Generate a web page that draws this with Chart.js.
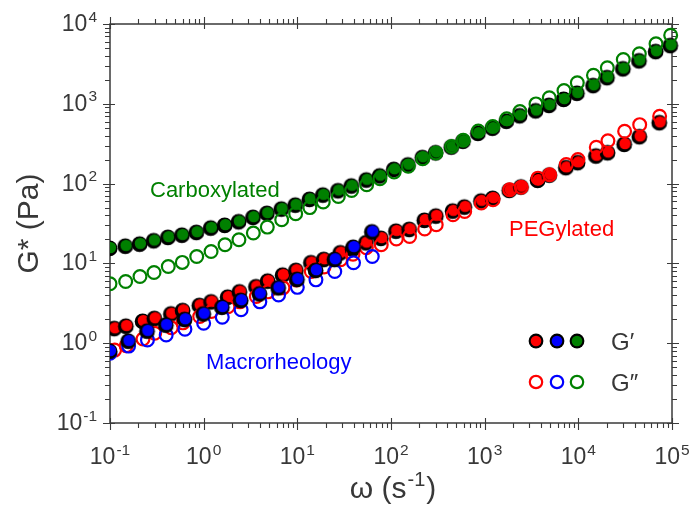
<!DOCTYPE html>
<html><head><meta charset="utf-8">
<script src="https://cdn.jsdelivr.net/npm/chart.js@4.4.1/dist/chart.umd.min.js"></script>
<style>html,body{margin:0;padding:0;background:#fff}#wrap{width:691px;height:510px;position:relative}</style>
</head><body><div id="wrap"><canvas id="c"></canvas></div>
<script>
// ---- data ----
const omegaCarbox = [0.1, 0.147, 0.209, 0.295, 0.419, 0.591, 0.843, 1.20, 1.69, 2.38, 3.39, 4.78, 6.81, 9.60, 13.6, 18.9, 27.4, 38.0, 55.0, 76.2, 108, 153, 218, 302, 444, 591, 855, 1220, 1720, 2380, 3530, 4900, 7030, 9750, 14500, 20400, 30200, 44800, 67500, 96800];
const carboxGp  = [15.6, 16.6, 17.6, 19.4, 21.4, 22.8, 24.7, 28.0, 30.3, 33.6, 38.1, 42.8, 48.4, 54.3, 64.1, 72.6, 82.2, 94.2, 112, 126, 152, 173, 214, 246, 290, 343, 431, 500, 610, 715, 825, 965, 1150, 1370, 1710, 2150, 2770, 3490, 4560, 5420];
const carboxGpp = [5.55, 5.93, 6.85, 7.69, 9.15, 10.3, 12.2, 14.1, 17.1, 19.8, 24.0, 28.5, 35.2, 41.9, 50, 59, 69, 82, 97, 115, 140, 165, 205, 242, 292, 350, 455, 520, 650, 800, 997, 1190, 1470, 1830, 2280, 2820, 3590, 4230, 5650, 7230];
const omegaPeg = [0.112, 0.149, 0.225, 0.300, 0.451, 0.601, 0.907, 1.21, 1.82, 2.43, 3.65, 4.86, 7.03, 9.75, 14.1, 19.3, 29.0, 39.3, 54.5, 78.7, 114, 158, 229, 304, 459, 612, 921, 1228, 1849, 2460, 3710, 4940, 7430, 9910, 15550, 20700, 31200, 45200, 73800];
const pegGp  = [1.54, 1.65, 1.90, 2.06, 2.35, 2.59, 3.00, 3.33, 3.81, 4.44, 5.15, 6.06, 7.20, 8.24, 10.3, 11.3, 13.7, 15.2, 18.3, 20.8, 25.6, 26.9, 35.0, 39.6, 45.7, 51.3, 61.0, 65.9, 83.1, 91.5, 111, 129, 160, 185, 224, 246, 314, 391, 586];
const pegGpp = [0.82, 0.93, 1.13, 1.33, 1.56, 1.80, 2.16, 2.50, 2.86, 3.30, 3.85, 4.40, 4.94, 6.2, 7.9, 9.0, 11.1, 13.0, 15.7, 17.1, 20.2, 21.7, 27.0, 30.5, 40.7, 44.8, 57.1, 62.8, 83.8, 90, 117, 129, 173, 200, 285, 345, 452, 548, 697];
const omegaMacro = [0.1, 0.158, 0.251, 0.398, 0.631, 1.0, 1.58, 2.51, 3.98, 6.31, 10.0, 15.8, 25.1, 39.8, 63.1];
const macroGp  = [0.80, 1.07, 1.43, 1.70, 2.00, 2.35, 2.85, 3.47, 4.19, 4.99, 6.36, 8.24, 11.3, 16.1, 25.1];
const macroGpp = [0.75, 0.92, 1.10, 1.27, 1.50, 1.78, 2.12, 2.62, 3.30, 4.03, 5.01, 6.22, 7.91, 10.2, 12.2];
const xTickValues = [0.1, 1, 10, 100, 1000, 10000, 100000];
const xTickExponents = ['-1', '0', '1', '2', '3', '4', '5'];
const yTickValues = [0.1, 1, 10, 100, 1000, 10000];
const yTickExponents = ['-1', '0', '1', '2', '3', '4'];
const tickBase = '10';
const seriesNames = ['Carboxylated', 'PEGylated', 'Macrorheology'];
const legendLabels = ['G\u2032', 'G\u2033'];
const xTitleParts = ['\u03C9 (s', '-1', ')'];
const yTitle = 'G* (Pa)';

// ---- styles ----
const GREEN = '#008000', RED = '#ff0000', BLUE = '#0000ff';
const AXIS = '#3a3a3a', TEXT = '#383838';
const FONT = '"Liberation Sans", Arial, sans-serif';

function filledMarker(color) {
  const c = document.createElement('canvas'); c.width = 20; c.height = 20;
  const g = c.getContext('2d');
  g.fillStyle = '#000'; g.beginPath(); g.arc(9.6, 10.4, 7.9, 0, Math.PI * 2); g.fill();
  g.fillStyle = color; g.beginPath(); g.arc(10.4, 9.6, 5.7, 0, Math.PI * 2); g.fill();
  return c;
}
const pts = (xs, ys) => xs.map((x, i) => ({x: x, y: ys[i]}));
const clipLeft = {left: 0, top: false, right: false, bottom: false};
function openSet(label, xs, ys, color) {
  return {label, data: pts(xs, ys), pointStyle: 'circle', pointRadius: 6.4, borderWidth: 2.2,
          borderColor: color, backgroundColor: 'rgba(0,0,0,0)', showLine: false, clip: clipLeft};
}
function filledSet(label, xs, ys, color) {
  return {label, data: pts(xs, ys), pointStyle: filledMarker(color), pointRadius: 8,
          borderColor: '#000', backgroundColor: color, showLine: false, clip: clipLeft};
}

// draws "10" with a raised exponent; align: 'center' or 'right'
function drawPow(ctx, x, baseline, exp, align) {
  ctx.font = '23px ' + FONT;
  const wb = ctx.measureText(tickBase).width;
  ctx.font = '15.5px ' + FONT;
  const we = ctx.measureText(exp).width;
  const w = wb + 1 + we;
  const x0 = align === 'right' ? x - w : x - w / 2;
  ctx.textAlign = 'left'; ctx.textBaseline = 'alphabetic';
  ctx.font = '23px ' + FONT; ctx.fillText(tickBase, x0, baseline);
  ctx.font = '15.5px ' + FONT; ctx.fillText(exp, x0 + wb + 1, baseline - 9.5);
}

const decor = {
  id: 'decor',
  beforeDatasetsDraw(chart) {
    const {ctx, chartArea: a, scales: {x, y}} = chart;
    ctx.save();
    ctx.strokeStyle = AXIS;
    ctx.lineWidth = 1.5;
    ctx.strokeRect(a.left, a.top, a.right - a.left, a.bottom - a.top);
    ctx.lineWidth = 1.1;
    const list = (s) => { const out = [];
      for (let e = Math.floor(Math.log10(s.min)); e <= Math.ceil(Math.log10(s.max)); e++)
        for (let k = 1; k <= 9; k++) { const v = k * Math.pow(10, e);
          if (v >= s.min * 0.999 && v <= s.max * 1.001) out.push({v, major: k === 1}); }
      return out; };
    ctx.beginPath();
    for (const t of list(x)) {
      const p = Math.round(x.getPixelForValue(t.v)) + 0.5;
      const o = t.major ? 7 : 5, n = t.major ? 5 : 0;
      ctx.moveTo(p, a.bottom - n); ctx.lineTo(p, a.bottom + o);
      ctx.moveTo(p, a.top + n); ctx.lineTo(p, a.top - o);
    }
    for (const t of list(y)) {
      const p = Math.round(y.getPixelForValue(t.v)) + 0.5;
      const o = t.major ? 7 : 5, n = t.major ? 5 : 0;
      ctx.moveTo(a.left + n, p); ctx.lineTo(a.left - o, p);
      ctx.moveTo(a.right - n, p); ctx.lineTo(a.right + o, p);
    }
    ctx.stroke();
    ctx.fillStyle = TEXT;
    xTickValues.forEach((v, i) => drawPow(ctx, x.getPixelForValue(v), a.bottom + 41, xTickExponents[i], 'center'));
    yTickValues.forEach((v, i) => drawPow(ctx, a.left - 13, y.getPixelForValue(v) + 7, yTickExponents[i], 'right'));
    ctx.font = '30px ' + FONT;
    const w1 = ctx.measureText(xTitleParts[0]).width, w3 = ctx.measureText(xTitleParts[2]).width;
    ctx.font = '20px ' + FONT;
    const w2 = ctx.measureText(xTitleParts[1]).width;
    const tw = w1 + w2 + w3 + 2;
    let tx = (a.left + a.right) / 2 - tw / 2 + 2;
    const tb = a.bottom + 75;
    ctx.textAlign = 'left'; ctx.textBaseline = 'alphabetic';
    ctx.font = '30px ' + FONT; ctx.fillText(xTitleParts[0], tx, tb);
    ctx.font = '20px ' + FONT; ctx.fillText(xTitleParts[1], tx + w1 + 1, tb - 12);
    ctx.font = '30px ' + FONT; ctx.fillText(xTitleParts[2], tx + w1 + w2 + 2, tb);
    ctx.restore();
  },
  afterDatasetsDraw(chart) {
    const {ctx, chartArea: a} = chart;
    ctx.save();
    ctx.font = '22px ' + FONT;
    ctx.textBaseline = 'alphabetic';
    ctx.textAlign = 'left';
    ctx.fillStyle = GREEN; ctx.fillText(seriesNames[0], a.left + 40, a.top + 173);
    ctx.fillStyle = RED;   ctx.fillText(seriesNames[1], a.left + 399, a.top + 212);
    ctx.fillStyle = BLUE;  ctx.fillText(seriesNames[2], a.left + 96, a.top + 345);
    const cols = [RED, BLUE, GREEN];
    const lx = [a.left + 426, a.left + 447, a.left + 467];
    const r1 = a.top + 317, r2 = a.top + 358;
    cols.forEach((c, i) => {
      ctx.fillStyle = '#000'; ctx.beginPath(); ctx.arc(lx[i], r1, 7.4, 0, Math.PI * 2); ctx.fill();
      ctx.fillStyle = c; ctx.beginPath(); ctx.arc(lx[i], r1, 5.3, 0, Math.PI * 2); ctx.fill();
      ctx.strokeStyle = c; ctx.lineWidth = 2.2; ctx.beginPath(); ctx.arc(lx[i], r2, 6.2, 0, Math.PI * 2); ctx.stroke();
    });
    ctx.fillStyle = TEXT;
    ctx.font = '24px ' + FONT;
    ctx.fillText(legendLabels[0], a.left + 501, r1 + 8.5);
    ctx.fillText(legendLabels[1], a.left + 501, r2 + 8.5);
    ctx.restore();
  }
};

new Chart(document.getElementById('c'), {
  type: 'scatter',
  data: {
    datasets: [
      filledSet('Macrorheology G′', omegaMacro, macroGp, BLUE),
      openSet('Macrorheology G″', omegaMacro, macroGpp, BLUE),
      openSet('Carboxylated G″', omegaCarbox, carboxGpp, GREEN),
      openSet('PEGylated G″', omegaPeg, pegGpp, RED),
      filledSet('PEGylated G′', omegaPeg, pegGp, RED),
      filledSet('Carboxylated G′', omegaCarbox, carboxGp, GREEN)
    ]
  },
  options: {
    responsive: true, maintainAspectRatio: false, animation: false, events: [],
    devicePixelRatio: 1,
    layout: {padding: {left: 0, top: 24, right: 19, bottom: 0}},
    plugins: {legend: {display: false}, tooltip: {enabled: false}},
    scales: {
      x: {
        type: 'logarithmic', position: 'bottom', min: 0.1, max: 100000,
        afterBuildTicks: s => { s.ticks = xTickValues.map(v => ({value: v})); },
        afterFit: s => { s.height = 87; s.paddingLeft = 0; s.paddingRight = 0; },
        grid: {display: false, drawTicks: false},
        border: {display: false},
        ticks: {display: false},
        title: {display: false}
      },
      y: {
        type: 'logarithmic', position: 'left', min: 0.1, max: 10000,
        afterBuildTicks: s => { s.ticks = yTickValues.map(v => ({value: v})); },
        afterFit: s => { s.width = 110; s.paddingTop = 0; s.paddingBottom = 0; },
        grid: {display: false, drawTicks: false},
        border: {display: false},
        ticks: {display: false},
        title: {display: true, text: yTitle, color: TEXT, font: {family: FONT, size: 30},
                padding: {top: 12, bottom: 0}}
      }
    }
  },
  plugins: [decor]
});
</script>
</body></html>
